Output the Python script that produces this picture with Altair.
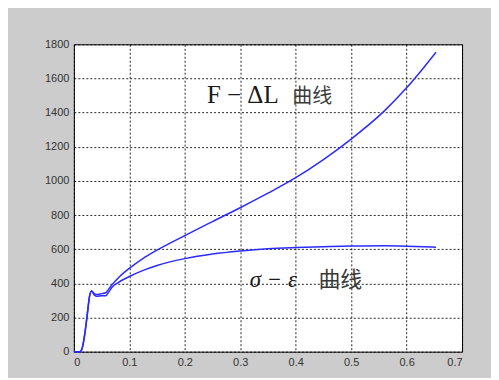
import altair as alt
import pandas as pd

# strain / elongation (x axis)
x_vals = [0, 0.011, 0.015, 0.020, 0.025, 0.028, 0.032, 0.036, 0.041, 0.050, 0.0576,
          0.063, 0.070, 0.080, 0.100, 0.125, 0.150, 0.200, 0.250, 0.300, 0.350,
          0.400, 0.450, 0.500, 0.560, 0.600, 0.630, 0.653]
# F - ΔL curve
F_vals = [0, 0, 20, 110, 240, 320, 356, 342, 335, 340, 345,
          368, 397, 432, 488, 547, 595, 680, 762, 843, 928,
          1019, 1125, 1245, 1410, 1545, 1660, 1753]
# σ - ε curve
S_vals = [0, 0, 20, 110, 240, 320, 356, 335, 325, 328, 327,
          350, 381, 405, 440, 476, 505, 545, 572, 590, 603,
          610, 615, 619, 620, 618, 615, 612]

x_ticks = [0, 0.1, 0.2, 0.3, 0.4, 0.5, 0.6, 0.7]
y_ticks = [0, 200, 400, 600, 800, 1000, 1200, 1400, 1600, 1800]

# annotations
ann_math = ["F − ΔL", "σ − ε"]
ann_math_x = [0.240, 0.317]
ann_math_y = [1457, 380]
ann_cjk = ["曲线", "曲线"]
ann_cjk_x = [0.394, 0.441]
ann_cjk_y = [1457, 380]

rows = []
for x, f in zip(x_vals, F_vals):
    rows.append({"x": x, "y": f, "series": "F"})
for x, s in zip(x_vals, S_vals):
    rows.append({"x": x, "y": s, "series": "S"})
df = pd.DataFrame(rows)

xs = alt.Scale(domain=[0, 0.7], nice=False, zero=False)
ys = alt.Scale(domain=[0, 1800], nice=False, zero=False)
x_axis = alt.Axis(values=x_ticks, format="~g", title=None, grid=True,
                  tickSize=0, labelPadding=5, minExtent=20, maxExtent=20,
                  domain=False, labelOverlap=False)
y_axis = alt.Axis(values=y_ticks, format="d", title=None, grid=True,
                  tickSize=0, labelPadding=5, minExtent=40, maxExtent=40,
                  domain=False, labelOverlap=False)

def enc():
    return dict(x=alt.X("x:Q", scale=xs, axis=x_axis),
                y=alt.Y("y:Q", scale=ys, axis=y_axis))

lines = alt.Chart(df).mark_line(color="#2b2bff", strokeWidth=1.5,
                                interpolate="monotone").encode(
    detail="series:N", **enc())

math_df = pd.DataFrame({"t": ann_math, "x": ann_math_x, "y": ann_math_y})
txt_F = alt.Chart(math_df.iloc[[0]]).mark_text(
    font="Liberation Serif", fontSize=25, align="left", baseline="alphabetic",
    color="#1a1a1a").encode(text="t:N", **enc())
txt_S = alt.Chart(math_df.iloc[[1]]).mark_text(
    font="Liberation Serif", fontSize=23, fontStyle="italic", align="left",
    baseline="alphabetic", color="#1a1a1a").encode(text="t:N", **enc())

cjk_df = pd.DataFrame({"t": ann_cjk, "x": ann_cjk_x, "y": ann_cjk_y})
txt_c1 = alt.Chart(cjk_df.iloc[[0]]).mark_text(
    font="Noto Sans CJK SC", fontSize=20, align="left", baseline="alphabetic",
    color="#3a3a3a").encode(text="t:N", **enc())
txt_c2 = alt.Chart(cjk_df.iloc[[1]]).mark_text(
    font="Noto Sans CJK SC", fontSize=22, align="left", baseline="alphabetic",
    color="#3a3a3a").encode(text="t:N", **enc())

chart = alt.layer(lines, txt_F, txt_S, txt_c1, txt_c2).properties(
    width=389, height=308,
    padding={"left": 26, "top": 30, "right": 28, "bottom": 6},
    background="#cccccc",
).configure_view(
    fill="white", stroke="#000000", strokeWidth=1
).configure_axis(
    labelFont="Liberation Sans", labelFontSize=11, labelColor="#333333",
    gridColor="#000000", gridDash=[2, 2], gridOpacity=0.85, gridWidth=1,
)

chart.save("out.html", embed_options={"renderer": "svg", "actions": False})
